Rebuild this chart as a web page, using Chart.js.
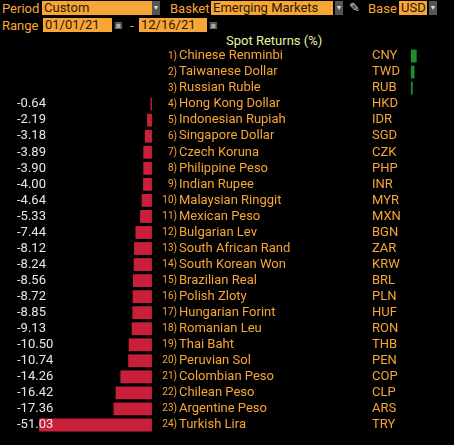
<!DOCTYPE html>
<html><head><meta charset="utf-8">
<script src="https://cdn.jsdelivr.net/npm/chart.js@4"></script>
<style>
body{margin:0;background:#000;width:454px;height:445px;overflow:hidden;font-family:Roboto,"Liberation Sans",sans-serif;font-size:13px;}
.t{position:absolute;color:#f7a536;line-height:15px;white-space:nowrap}
.b{position:absolute;background:#f7a536;color:#2a1a00;height:14px;line-height:14px;padding-left:2px;white-space:nowrap}
.a{position:absolute;background:#555;width:8px;height:14px;color:#ddd;font-size:7px;text-align:center;line-height:14px}
#wrap{position:absolute;left:0;top:0;width:454px;height:445px}
</style></head><body>
<div class="t" style="left:2px;top:1px">Period</div>
<div class="b" style="left:42px;top:1px;width:108px">Custom</div><div class="a" style="left:152px;top:1px">▼</div>
<div class="t" style="left:170px;top:1px">Basket</div>
<div class="b" style="left:211px;top:1px;width:120px">Emerging Markets</div><div class="a" style="left:335px;top:1px">▼</div>
<div class="t" style="left:349px;top:0px;color:#ddd">✎</div>
<div class="t" style="left:368px;top:1px">Base</div>
<div class="b" style="left:399px;top:1px;width:26px">USD</div><div class="a" style="left:429px;top:1px">▼</div>
<div class="t" style="left:2px;top:18px">Range</div>
<div class="b" style="left:43px;top:18px;width:67px">01/01/21</div><div class="a" style="left:114px;top:18px;background:none;color:#aaa;font-size:9px">▣</div>
<div class="t" style="left:130px;top:18px">-</div>
<div class="b" style="left:139px;top:18px;width:66px">12/16/21</div><div class="a" style="left:209px;top:18px;background:none;color:#aaa;font-size:9px">▣</div>
<div class="t" style="left:226px;top:33px;color:#e8f5a0">Spot Returns (%)</div>
<div id="wrap"><canvas id="c" width="454" height="445"></canvas></div>
<script>
const names=["Chinese Renminbi","Taiwanese Dollar","Russian Ruble","Hong Kong Dollar","Indonesian Rupiah","Singapore Dollar","Czech Koruna","Philippine Peso","Indian Rupee","Malaysian Ringgit","Mexican Peso","Bulgarian Lev","South African Rand","South Korean Won","Brazilian Real","Polish Zloty","Hungarian Forint","Romanian Leu","Thai Baht","Peruvian Sol","Colombian Peso","Chilean Peso","Argentine Peso","Turkish Lira"];
const codes=["CNY","TWD","RUB","HKD","IDR","SGD","CZK","PHP","INR","MYR","MXN","BGN","ZAR","KRW","BRL","PLN","HUF","RON","THB","PEN","COP","CLP","ARS","TRY"];
const returns=[2.6,1.6,0.8,-0.64,-2.19,-3.18,-3.89,-3.90,-4.00,-4.64,-5.33,-7.44,-8.12,-8.24,-8.56,-8.72,-8.85,-9.13,-10.50,-10.74,-14.26,-16.42,-17.36,-51.03];
const neg=returns.map(v=>v<0?v:null), pos=returns.map(v=>v>0?v:null);
const lblPlugin={id:'lbl',afterDatasetsDraw(ch){const c=ch.ctx,y=ch.scales.y;c.save();c.textBaseline='middle';
names.forEach((n,i)=>{const py=y.getPixelForValue(i);c.font='13px Roboto';
if(returns[i]<0){c.fillStyle='#e6e6e6';c.textAlign='left';c.fillText(returns[i].toFixed(2),17,py);}
c.textAlign='right';c.font='10px Roboto';c.fillStyle='#f7a536';c.fillText((i+1)+')',177,py);
c.textAlign='left';c.font='13px Roboto';c.fillText(n,179,py);c.fillText(codes[i],372,py);});c.restore();}};
new Chart(document.getElementById('c'),{type:'bar',data:{labels:codes,datasets:[
{data:neg,backgroundColor:'#c8203a',xAxisID:'x',grouped:false,barPercentage:0.8,categoryPercentage:1},
{data:pos,backgroundColor:'#1f8f2e',xAxisID:'x2',grouped:false,barPercentage:0.8,categoryPercentage:1}]},
options:{indexAxis:'y',responsive:false,animation:false,devicePixelRatio:1,
layout:{padding:{top:48,bottom:12,left:0,right:0}},
plugins:{legend:{display:false},tooltip:{enabled:false}},
scales:{y:{display:false},x:{display:false,min:-68.7,max:136.6},x2:{display:false,min:-186,max:19.5}}},
plugins:[lblPlugin]});
</script>
</body></html>
